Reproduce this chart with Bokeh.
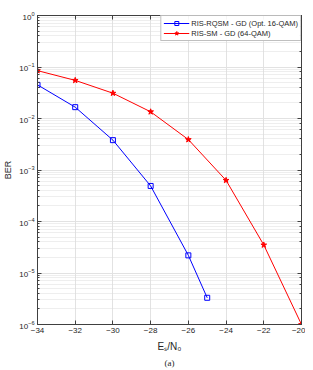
from bokeh.plotting import figure
from bokeh.models import LogAxis, LinearAxis, Title, Legend, LegendItem, FixedTicker, Range1d, CustomJSTickFormatter
from bokeh.embed import file_html
from bokeh.resources import INLINE

# data
snr = [-34, -32, -30, -28, -26, -25]
ber_rqsm = [0.045, 0.0166, 0.0038, 0.00049, 2.2e-5, 3.3e-6]
snr_sm = [-34, -32, -30, -28, -26, -24, -22, -20]
ber_sm = [0.085, 0.055, 0.031, 0.0135, 0.0039, 6.3e-4, 3.5e-5, 1.0e-6]
x_ticks = [-34, -32, -30, -28, -26, -24, -22, -20]
label_rqsm = "RIS-RQSM - GD (Opt. 16-QAM)"
label_sm = "RIS-SM - GD (64-QAM)"
x_label = "Eₛ/N₀"
y_label = "BER"
caption = "(a)"

FONT = "Liberation Sans"
AX = "#404040"

p = figure(width=305, height=368, output_backend="svg", toolbar_location=None,
           x_axis_type="linear", y_axis_type="log",
           x_range=Range1d(-34, -20), y_range=Range1d(1e-6, 1),
           min_border_left=31, min_border_right=4, min_border_top=15, min_border_bottom=42)
p.background_fill_color = "white"
p.border_fill_color = "white"
p.outline_line_color = AX
p.outline_line_width = 1

# grids
p.xgrid.grid_line_color = "#e2e2e2"
p.ygrid.grid_line_color = "#e2e2e2"
p.ygrid.minor_grid_line_color = "#dcdcdc"
p.ygrid.minor_grid_line_dash = "1 1"

p.xaxis.ticker = FixedTicker(ticks=x_ticks)
for ax in (p.xaxis[0], p.yaxis[0]):
    ax.major_tick_in = 4
    ax.major_tick_out = 0
    ax.minor_tick_in = 2
    ax.minor_tick_out = 0
    ax.axis_line_color = AX
    ax.major_tick_line_color = AX
    ax.minor_tick_line_color = AX
    ax.major_label_text_font = FONT
    ax.major_label_text_font_size = "8px"
    ax.major_label_text_color = "#262626"
    ax.major_label_standoff = 3
    ax.axis_label_text_font = FONT
    ax.axis_label_text_font_size = "9px"
    ax.axis_label_text_font_style = "normal"
    ax.axis_label_text_color = "#262626"
    ax.axis_label_standoff = 3
p.xaxis.minor_tick_line_color = None
p.yaxis.axis_label = y_label
p.xaxis.axis_label = x_label
p.xaxis.axis_label_text_font_size = "10px"
p.xaxis.axis_label_standoff = 5

# box axes (ticks only)
ra = LogAxis(formatter=CustomJSTickFormatter(code="return ''"), major_tick_in=4, major_tick_out=0,
             minor_tick_in=2, minor_tick_out=0, axis_line_color=AX,
             major_tick_line_color=AX, minor_tick_line_color=AX, major_label_standoff=0,
             major_label_text_font_size="1px")
p.add_layout(ra, "right")
ta = LinearAxis(ticker=FixedTicker(ticks=x_ticks), formatter=CustomJSTickFormatter(code="return ''"),
                major_tick_in=4, major_tick_out=0, minor_tick_line_color=None,
                axis_line_color=AX, major_tick_line_color=AX, major_label_standoff=0,
                major_label_text_font_size="1px")
p.add_layout(ta, "above")

r1 = p.line(snr, ber_rqsm, line_color="#0000ff", line_width=1)
m1 = p.scatter(snr, ber_rqsm, marker="square", size=5, line_color="#0000ff",
               fill_alpha=0, line_width=1)
r2 = p.line(snr_sm, ber_sm, line_color="#ff0000", line_width=1)
m2 = p.scatter(snr_sm, ber_sm, marker="star", size=6, line_color="#ff0000",
               fill_color="#ff0000", line_width=1)

legend = Legend(items=[LegendItem(label=label_rqsm, renderers=[r1, m1]),
                       LegendItem(label=label_sm, renderers=[r2, m2])],
                location="top_right", margin=0, padding=2, spacing=0,
                label_text_font=FONT, label_text_font_size="7.5px",
                label_text_color="#262626", label_height=10, glyph_height=10,
                glyph_width=26, label_standoff=2,
                border_line_color="#808080", border_line_width=1)
p.add_layout(legend, "center")

p.add_layout(Title(text=caption, align="center", text_font="Liberation Serif",
                   text_font_size="9px", text_font_style="normal", text_color="#262626",
                   standoff=2, offset=-8), "below")

open("out.html", "w").write(file_html(p, INLINE))
